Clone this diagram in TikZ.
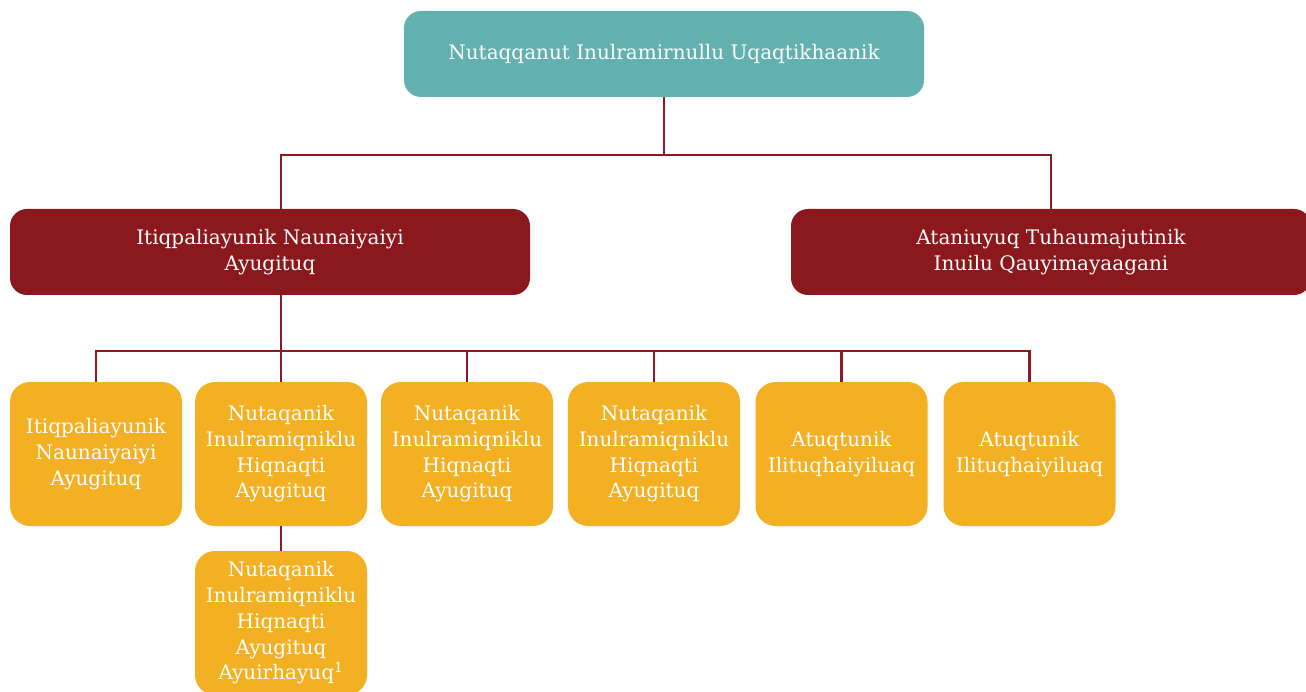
\documentclass[tikz,border=0pt]{standalone}
\usepackage{fontspec}
\setmainfont{DejaVu Serif}
\definecolor{teal1}{HTML}{62B0B0}
\definecolor{red1}{HTML}{8A181C}
\definecolor{yel1}{HTML}{F2B022}
\definecolor{line1}{HTML}{8B1A22}
\tikzset{
  basebox/.style={rounded corners=17pt, minimum width=520pt, minimum height=86pt, text=white, align=center, inner sep=0pt, font=\fontsize{20}{25.7}\selectfont},
  topbox/.style={basebox, fill=teal1},
  midbox/.style={basebox, fill=red1},
  leafbox/.style={fill=yel1, rounded corners=20pt, minimum width=172pt, minimum height=144pt, text=white, align=center, inner sep=0pt, font=\fontsize{20}{25.7}\selectfont},
  conn/.style={draw=line1, line width=2.4pt}
}
\begin{document}
\begin{tikzpicture}[x=1pt,y=-1pt]
\useasboundingbox (0,0) rectangle (1306,692);
\clip (0,0) rectangle (1306,692);
\node[topbox] (top) at (664,54) {Nutaqqanut Inulramirnullu Uqaqtikhaanik};
\node[midbox] (left) at (270,252) {Itiqpaliayunik Naunaiyaiyi\\Ayugituq};
\node[midbox] (right) at (1051,252) {Ataniuyuq Tuhaumajutinik\\Inuilu Qauyimayaagani};
\node[leafbox] (b1) at (96,454) {Itiqpaliayunik\\Naunaiyaiyi\\Ayugituq};
\node[leafbox] (b2) at (281,454) {Nutaqanik\\Inulramiqniklu\\Hiqnaqti\\Ayugituq};
\node[leafbox] (b3) at (467,454) {Nutaqanik\\Inulramiqniklu\\Hiqnaqti\\Ayugituq};
\node[leafbox] (b4) at (654,454) {Nutaqanik\\Inulramiqniklu\\Hiqnaqti\\Ayugituq};
\node[leafbox] (b5) at (841.5,454) {Atuqtunik\\Ilituqhaiyiluaq};
\node[leafbox] (b6) at (1029.5,454) {Atuqtunik\\Ilituqhaiyiluaq};
\node[leafbox] (b7) at (281,623) {Nutaqanik\\Inulramiqniklu\\Hiqnaqti\\Ayugituq\\Ayuirhayuq\textsuperscript{1}};
\coordinate (j1) at (664,155);
\coordinate (j2) at (281,351);
\draw[conn] (top.south) -- (j1);
\draw[conn] (b2 |- left.north) |- (j1) -| (right.north);
\draw[conn] (b2 |- left.south) -- (b2.north);
\draw[conn] (b1.north) |- (j2) -| (b6.north);
\draw[conn] (b3.north) -- (b3.north |- j2);
\draw[conn] (b4.north) -- (b4.north |- j2);
\draw[conn] (b5.north) -- (b5.north |- j2);
\draw[conn] (b2.south) -- (b7.north);
\end{tikzpicture}
\end{document}
